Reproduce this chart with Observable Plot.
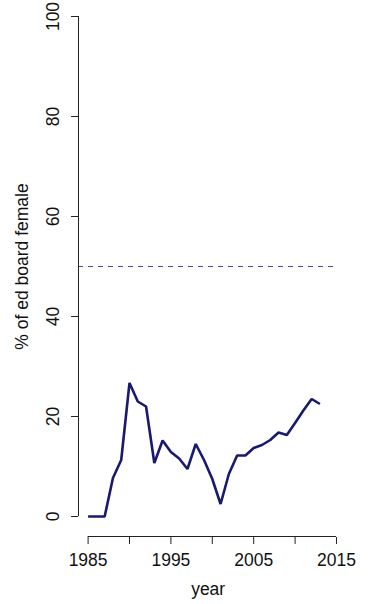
<!DOCTYPE html>
<html>
<head>
<meta charset="utf-8">
<script src="https://cdn.jsdelivr.net/npm/d3@7"></script>
<script src="https://cdn.jsdelivr.net/npm/@observablehq/plot@0.6"></script>
<style>
  body { margin: 0; background: #fff; }
  svg { display: block; }
</style>
</head>
<body>
<div id="chart"></div>
<script>
// Share of education board seats held by women, by year
const years = [1985, 1986, 1987, 1988, 1989, 1990, 1991, 1992, 1993, 1994,
               1995, 1996, 1997, 1998, 1999, 2000, 2001, 2002, 2003, 2004,
               2005, 2006, 2007, 2008, 2009, 2010, 2011, 2012, 2013];
const pctFemale = [0, 0, 0, 7.7, 11.3, 26.7, 23.0, 22.0, 10.7, 15.2,
                   12.9, 11.6, 9.5, 14.5, 11.3, 7.5, 2.5, 8.5, 12.2, 12.2,
                   13.7, 14.3, 15.3, 16.8, 16.3, 18.7, 21.2, 23.5, 22.5];

// Gender parity reference level
const parityLevel = [50];

// Axis ticks and labels
const xTicks = [1985, 1990, 1995, 2000, 2005, 2010, 2015];
const xTickLabels = [1985, 1995, 2005, 2015];
const yTicks = [0, 20, 40, 60, 80, 100];

// Plot region limits (data range padded by 4% on each side)
const xLimits = [1983.84, 2015.16];
const yLimits = [-4, 104];

const rows = years.map((year, i) => ({year, pct: pctFemale[i]}));

const axisColor = "#222";
const textColor = "#111";
const font = "'Liberation Sans', Arial, Helvetica, sans-serif";
const fontSize = 17.5;

const chart = Plot.plot({
  width: 373,
  height: 604,
  marginLeft: 78,
  marginRight: 35.7,
  marginTop: 0,
  marginBottom: 67,
  x: {domain: xLimits},
  y: {domain: yLimits, range: [536, -4]},
  style: {fontFamily: font, fontSize: fontSize + "px", color: textColor, background: "#fff", overflow: "visible"},
  marks: [
    Plot.ruleY(parityLevel, {stroke: "#4a4a9c", strokeWidth: 1.2, strokeDasharray: "5,5"}),
    // axis lines
    Plot.ruleX([xLimits[0]], {y1: yTicks[0], y2: yTicks[yTicks.length - 1], stroke: axisColor, strokeWidth: 1}),
    Plot.ruleY([yLimits[0]], {x1: xTicks[0], x2: xTicks[xTicks.length - 1], stroke: axisColor, strokeWidth: 1}),
    Plot.axisX({
      ticks: xTicks,
      tickSize: 7,
      tickPadding: 9,
      stroke: axisColor,
      tickFormat: d => xTickLabels.includes(d) ? String(d) : "",
      label: null,
      fontSize
    }),
    Plot.axisY({
      ticks: yTicks,
      tickSize: 7,
      tickPadding: 13,
      tickRotate: -90,
      stroke: axisColor,
      label: null,
      fontSize
    }),
    Plot.line(rows, {x: "year", y: "pct", stroke: "#191970", strokeWidth: 2.6, strokeLinejoin: "miter", strokeLinecap: "butt"}),
    Plot.text(["year"], {frameAnchor: "bottom", dy: 57, fontSize, fill: textColor}),
    Plot.text(["% of ed board female"], {frameAnchor: "left", textAnchor: "middle", dx: -56.3, dy: -2.5, rotate: -90, fontSize, fill: textColor})
  ]
});

document.getElementById("chart").appendChild(chart);
</script>
</body>
</html>
